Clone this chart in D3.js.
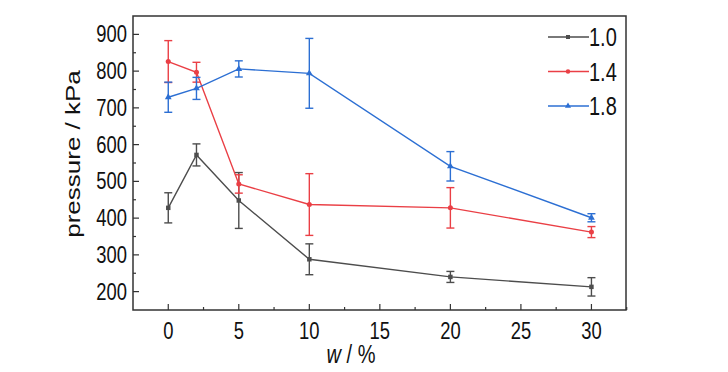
<!DOCTYPE html>
<html>
<head>
<meta charset="utf-8">
<script src="https://cdn.jsdelivr.net/npm/d3@7"></script>
<style>
  body { margin: 0; background: #fff; }
  text { font-family: "Liberation Sans", Arial, sans-serif; fill: #111; }
</style>
</head>
<body>
<div id="chart"></div>
<script>
// x positions (w / %)
var wValues = [0, 2, 5, 10, 20, 30]
var seriesNames = ['1.0', '1.4', '1.8']
// pressure (kPa) and error bar half widths
var p10 = [428, 572, 448, 288, 240, 213]
var e10 = [41, 30, 76, 42, 15, 25]
var p14 = [826, 797, 493, 437, 428, 362]
var e14 = [57, 27, 25, 84, 55, 15]
var p18 = [729, 753, 806, 794, 541, 401]
var e18 = [41, 30, 22, 95, 40, 11]
var xTicks = [0, 5, 10, 15, 20, 25, 30]
var yTicks = [200, 300, 400, 500, 600, 700, 800, 900]

var colors = ['#4d4d4d', '#ea3f45', '#2c6fd3']
var markers = [d3.symbolSquare, d3.symbolCircle, d3.symbolTriangle]
var series = [
  { name: seriesNames[0], vals: p10, errs: e10 },
  { name: seriesNames[1], vals: p14, errs: e14 },
  { name: seriesNames[2], vals: p18, errs: e18 }
]

var W = 728, H = 372
var pLeft = 133, pRight = 626, pTop = 16, pBottom = 310
// 字体横向压缩
var SX = 0.8

var svg = d3.select('#chart').append('svg')
  .attr('width', W).attr('height', H)

var x = d3.scaleLinear().domain([-2.5, 32.45]).range([pLeft, pRight])
var y = d3.scaleLinear().domain([150, 950]).range([pBottom, pTop])

function label (g, tx, ty, str, size, anchor) {
  return g.append('text')
    .attr('transform', 'translate(' + tx + ',' + ty + ') scale(' + SX + ',1)')
    .attr('text-anchor', anchor || 'middle')
    .attr('font-size', size)
    .text(str)
}

// 坐标轴框
svg.append('rect')
  .attr('x', pLeft).attr('y', pTop)
  .attr('width', pRight - pLeft).attr('height', pBottom - pTop)
  .attr('fill', 'none').attr('stroke', '#333').attr('stroke-width', 1.5)

// minor ticks
var xMinor = d3.range(-2.5, 32.6, 2.5).filter(d => xTicks.indexOf(d) < 0 && d > -2.5)
var yMinor = d3.range(150, 951, 50).filter(d => yTicks.indexOf(d) < 0 && d > 150 && d < 950)

var gx = svg.append('g')
gx.selectAll('line.maj').data(xTicks).enter().append('line')
  .attr('x1', d => x(d)).attr('x2', d => x(d))
  .attr('y1', pBottom).attr('y2', pBottom - 6)
  .attr('stroke', '#333').attr('stroke-width', 1.2)
gx.selectAll('line.min').data(xMinor).enter().append('line')
  .attr('x1', d => x(d)).attr('x2', d => x(d))
  .attr('y1', pBottom).attr('y2', pBottom - 3)
  .attr('stroke', '#333').attr('stroke-width', 1.2)
xTicks.forEach(d => label(gx, x(d), pBottom + 29, d, 23))

var gy = svg.append('g')
gy.selectAll('line.maj').data(yTicks).enter().append('line')
  .attr('x1', pLeft).attr('x2', pLeft + 6)
  .attr('y1', d => y(d)).attr('y2', d => y(d))
  .attr('stroke', '#333').attr('stroke-width', 1.2)
gy.selectAll('line.min').data(yMinor).enter().append('line')
  .attr('x1', pLeft).attr('x2', pLeft + 3)
  .attr('y1', d => y(d)).attr('y2', d => y(d))
  .attr('stroke', '#333').attr('stroke-width', 1.2)
yTicks.forEach(d => label(gy, pLeft - 6, y(d) + 8, d, 23, 'end'))

// axis titles
svg.append('text')
  .attr('transform', 'translate(80,154) rotate(-90) scale(1,' + SX + ')')
  .attr('text-anchor', 'middle')
  .attr('font-size', 26)
  .text('pressure / kPa')

var xt = label(svg, 351, 363, '', 25)
xt.append('tspan').attr('font-style', 'italic').text('w')
xt.append('tspan').text(' / %')

// series
var line = d3.line().x(d => x(d.w)).y(d => y(d.v))

series.forEach(function (s, i) {
  var pts = wValues.map((w, j) => ({ w: w, v: s.vals[j], e: s.errs[j] }))
  var g = svg.append('g')
  g.append('path')
    .datum(pts)
    .attr('d', line)
    .attr('fill', 'none')
    .attr('stroke', colors[i])
    .attr('stroke-width', 1.4)
  var eb = g.selectAll('g.err').data(pts).enter().append('g')
  eb.append('line')
    .attr('x1', d => x(d.w)).attr('x2', d => x(d.w))
    .attr('y1', d => y(d.v - d.e)).attr('y2', d => y(d.v + d.e))
    .attr('stroke', colors[i]).attr('stroke-width', 1.4)
  eb.append('line')
    .attr('x1', d => x(d.w) - 4).attr('x2', d => x(d.w) + 4)
    .attr('y1', d => y(d.v + d.e)).attr('y2', d => y(d.v + d.e))
    .attr('stroke', colors[i]).attr('stroke-width', 1.4)
  eb.append('line')
    .attr('x1', d => x(d.w) - 4).attr('x2', d => x(d.w) + 4)
    .attr('y1', d => y(d.v - d.e)).attr('y2', d => y(d.v - d.e))
    .attr('stroke', colors[i]).attr('stroke-width', 1.4)
  g.selectAll('path.m').data(pts).enter().append('path')
    .attr('class', 'm')
    .attr('transform', d => 'translate(' + x(d.w) + ',' + y(d.v) + ')')
    .attr('d', d3.symbol().type(markers[i]).size(20))
    .attr('fill', colors[i])
})

// legend
var lg = svg.append('g').attr('transform', 'translate(548,37)')
series.forEach(function (s, i) {
  var row = lg.append('g').attr('transform', 'translate(0,' + (i * 34.5) + ')')
  row.append('line').attr('x1', 0).attr('x2', 41).attr('y1', 0).attr('y2', 0)
    .attr('stroke', colors[i]).attr('stroke-width', 1.4)
  row.append('path').attr('transform', 'translate(20,0)')
    .attr('d', d3.symbol().type(markers[i]).size(16))
    .attr('fill', colors[i])
  label(row, 41, 9, s.name, 25, 'start')
})
</script>
</body>
</html>
